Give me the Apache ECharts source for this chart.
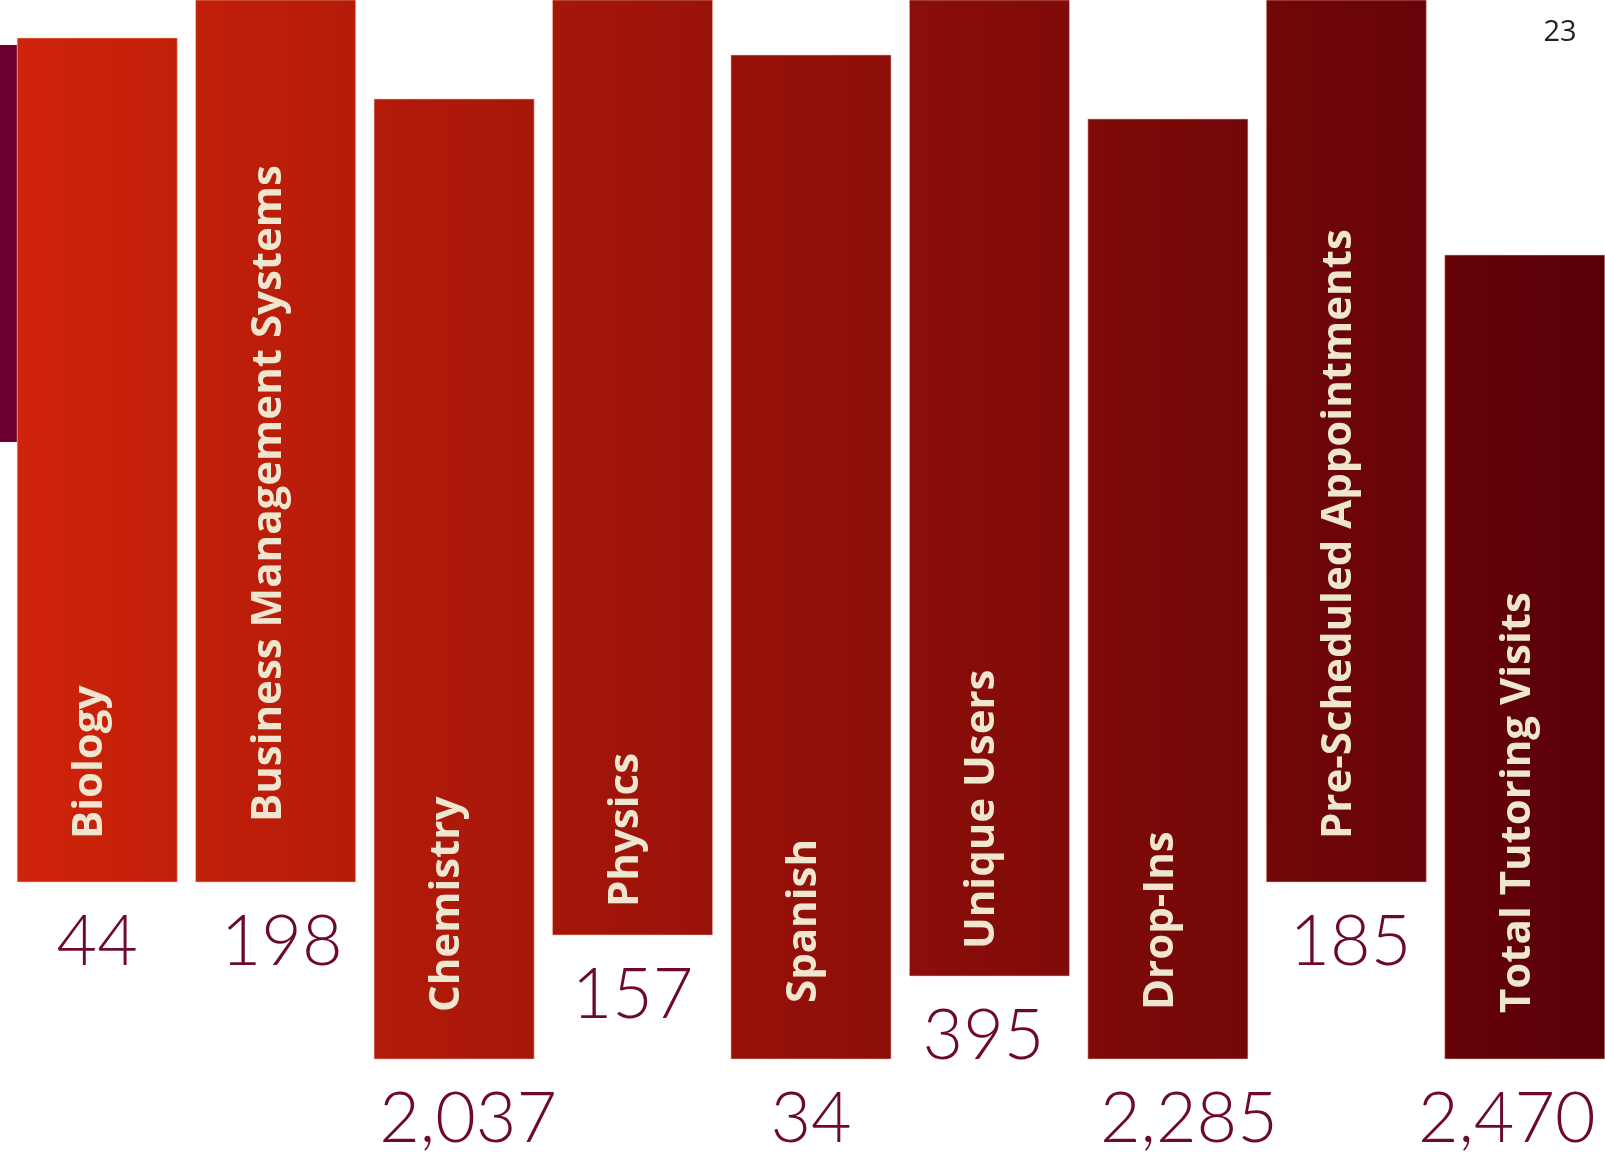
<!DOCTYPE html>
<html>
<head>
<meta charset="utf-8">
<title>Tutoring visits</title>
<script src="https://cdn.jsdelivr.net/npm/echarts@6/dist/echarts.min.js"></script>
<style>
  html, body { margin: 0; padding: 0; background: #ffffff; }
  #main { width: 1605px; height: 1157px; }
</style>
</head>
<body>
<div id="main"></div>
<script>
// categories and counts shown under each bar
const categories = ['Biology', 'Business Management Systems', 'Chemistry', 'Physics', 'Spanish',
  'Unique Users', 'Drop-Ins', 'Pre-Scheduled Appointments', 'Total Tutoring Visits']
const counts = [44, 198, 2037, 157, 34, 395, 2285, 185, 2470]
// bar extent on the (inverted) level axis, 0 = top of page
const barTop = [38, 0, 99, 0, 55, 0, 119, 0, 255]
const barBottom = [882, 882, 1059, 935, 1059, 976, 1059, 882, 1059]

// layout tweaks
const namePad = [43, 60, 47, 28, 56, 27, 49, 43, 46] // gap between bar bottom and start of name
const valueShift = [0, 6, 14, 0, 0, -6, 21, 4, -18] // the big numbers are not all centred
const valueGap = 60

const chart = echarts.init(document.getElementById('main'))

const barFill = new echarts.graphic.LinearGradient(0, 0, 1605, 0, [
  { offset: 0, color: '#d0240a' },
  { offset: 0.5, color: '#921009' },
  { offset: 1, color: '#5a0008' }
], true) // 整个画布一条渐变

function renderBar (params, api) {
  let i = api.value(0)
  let top = api.coord([i, api.value(1)])
  let bottom = api.coord([i, api.value(2)])
  let w = api.size([1, 0])[0] * 0.897
  let x = top[0] - w / 2
  let idx = params.dataIndex
  return {
    type: 'group',
    children: [
      {
        type: 'rect',
        shape: { x: x, y: top[1], width: w, height: bottom[1] - top[1] },
        style: { fill: barFill, stroke: 'rgba(250,190,170,0.55)', lineWidth: 1 }
      },
      {
        type: 'text',
        x: top[0] - 7,
        y: bottom[1] - namePad[idx],
        rotation: Math.PI / 2,
        style: {
          text: categories[idx],
          fill: '#efe6cf',
          font: 'bold 42px "Open Sans", sans-serif',
          align: 'left',
          verticalAlign: 'middle'
        }
      },
      {
        type: 'text',
        x: top[0] + valueShift[idx],
        y: bottom[1] + valueGap,
        style: {
          text: counts[idx].toLocaleString('en-US'),
          fill: '#6c0832',
          font: '300 70px Lato, sans-serif',
          align: 'center',
          verticalAlign: 'middle'
        }
      }
    ]
  }
}

chart.setOption({
  animation: false,
  grid: { left: 8, top: 0, width: 1606, height: 1157, outerBoundsMode: 'none' },
  xAxis: {
    type: 'category',
    data: categories,
    show: false
  },
  yAxis: {
    type: 'value',
    inverse: true,
    min: 0,
    max: 1157,
    show: false
  },
  graphic: [
    { type: 'rect', left: 0, top: 45, z: -1, shape: { width: 17, height: 397 }, style: { fill: '#6a0030' } },
    { type: 'text', x: 1560, y: 33, style: { text: '23', fill: '#222222', font: '29px "Open Sans", sans-serif', align: 'center', verticalAlign: 'middle' } }
  ],
  series: [
    {
      type: 'custom',
      renderItem: renderBar,
      clip: false,
      data: categories.map((c, i) => [i, barTop[i], barBottom[i]])
    }
  ]
})

window.addEventListener('resize', function () {
  chart.resize()
})
</script>
</body>
</html>
